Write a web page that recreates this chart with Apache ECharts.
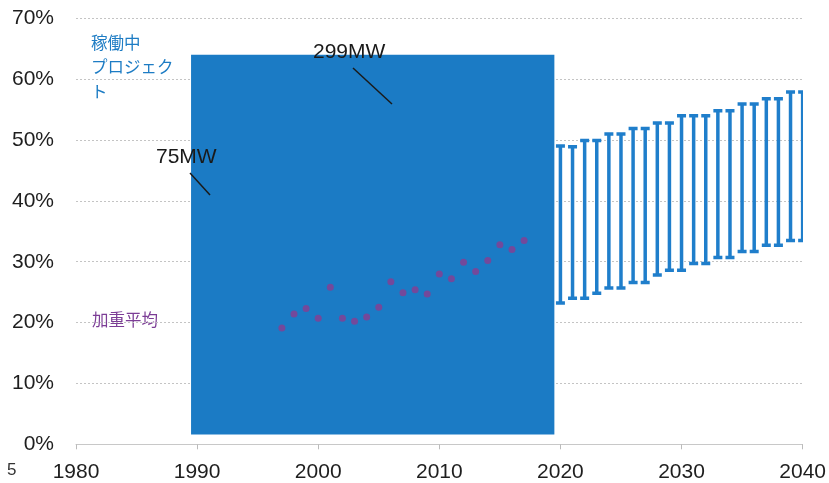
<!DOCTYPE html>
<html><head><meta charset="utf-8">
<script src="https://cdn.jsdelivr.net/npm/echarts@6/dist/echarts.min.js"></script>
<style>html,body{margin:0;padding:0;background:#fff}#c{width:829px;height:483px}</style>
</head><body><div id="c"></div>
<script>
// Operating projects block (years span, percent span)
const blockStartYear = 1989.5, blockEndYear = 2019.5, blockLow = 1.6, blockHigh = 64;
// Weighted average capacity factor (%)
const avgYears = [1997,1998,1999,2000,2001,2002,2003,2004,2005,2006,2007,2008,2009,2010,2011,2012,2013,2014,2015,2016,2017];
const avgValues = [19.1,21.4,22.3,20.7,25.8,20.7,20.2,20.9,22.5,26.7,24.9,25.4,24.7,28.0,27.2,29.9,28.4,30.2,32.8,32.0,33.5];
// Projected range (%)
const rangeYears = [2020,2021,2022,2023,2024,2025,2026,2027,2028,2029,2030,2031,2032,2033,2034,2035,2036,2037,2038,2039,2040];
const rangeHigh = [49.0,48.9,49.9,49.9,51.0,51.0,51.9,51.9,52.8,52.8,54.0,54.0,54.0,54.8,54.8,55.9,55.9,56.8,56.8,57.9,57.9];
const rangeLow  = [23.2,24.0,24.0,24.8,25.7,25.7,26.6,26.6,27.8,28.6,28.6,29.7,29.7,30.7,30.7,31.7,31.7,32.7,32.7,33.5,33.5];
const yTicks = [0,10,20,30,40,50,60,70];

const chart = echarts.init(document.getElementById('c'), null, {renderer:'canvas'});
const blue = '#1b7bc5';
const purple = '#8a3d90';
const font = '"Liberation Sans", Arial, sans-serif';
const jp = '"Noto Sans CJK JP", sans-serif';

chart.setOption({
  animation:false,
  grid:{left:76, right:26, top:18.3, bottom:38.7},
  xAxis:{type:'value', min:1980, max:2040, interval:10,
    axisLine:{lineStyle:{color:'#c8c8c8', width:1}},
    axisTick:{show:true, length:5, lineStyle:{color:'#bbb'}},
    splitLine:{show:false},
    axisLabel:{margin:17, fontFamily:font, fontSize:21, color:'#1e1e1e', formatter:v=>String(v)}
  },
  yAxis:{type:'value', min:yTicks[0], max:yTicks[yTicks.length-1], interval:10,
    axisLine:{show:false}, axisTick:{show:false},
    splitLine:{lineStyle:{color:'#c4c4c4', type:[2,2], width:1}},
    axisLabel:{margin:22, fontFamily:font, fontSize:21, color:'#1e1e1e', formatter:'{value}%'}
  },
  series:[
    {type:'custom', z:2, clip:true,
      data:[[blockStartYear, blockEndYear, blockLow, blockHigh]],
      renderItem:(p, api)=>{
        const a = api.coord([api.value(0), api.value(3)]);
        const b = api.coord([api.value(1), api.value(2)]);
        return {type:'rect', shape:{x:a[0], y:a[1], width:b[0]-a[0], height:b[1]-a[1]}, style:{fill:blue}};
      }
    },
    {type:'scatter', z:3, symbolSize:7, itemStyle:{color:purple},
      data: avgYears.map((y,i)=>[y, avgValues[i]])},
    {type:'custom', z:3, clip:true,
      data: rangeYears.map((y,i)=>[y, rangeLow[i], rangeHigh[i]]),
      renderItem:(p, api)=>{
        const lo = api.coord([api.value(0), api.value(1)]);
        const hi = api.coord([api.value(0), api.value(2)]);
        const w = 4.5;
        const st = {stroke:'#1f7ecb', lineWidth:3.5};
        return {type:'group', children:[
          {type:'line', shape:{x1:lo[0], y1:lo[1], x2:hi[0], y2:hi[1]}, style:st},
          {type:'line', shape:{x1:lo[0]-w, y1:lo[1], x2:lo[0]+w, y2:lo[1]}, style:st},
          {type:'line', shape:{x1:hi[0]-w, y1:hi[1], x2:hi[0]+w, y2:hi[1]}, style:st}
        ]};
      }
    }
  ],
  graphic:[
    {type:'text', left:7, top:462, style:{text:'5', font:'17px '+font, fill:'#333'}},
    {type:'text', left:91, top:30, style:{text:'稼働中\nプロジェク\nト', font:'16.5px '+jp, fill:'#1d7cc4', lineHeight:24.5}},
    {type:'text', left:92, top:311, style:{text:'加重平均', font:'16.5px '+jp, fill:'#7c3d96'}},
    {type:'text', left:156, top:147, z:10, style:{text:'75MW', font:'21px '+font, fill:'#1a1a1a'}},
    {type:'line', z:10, shape:{x1:190, y1:173, x2:210, y2:195}, style:{stroke:'#1a1a1a', lineWidth:1.5}},
    {type:'text', left:313, top:42, z:10, style:{text:'299MW', font:'21px '+font, fill:'#1a1a1a'}},
    {type:'line', z:10, shape:{x1:353, y1:68, x2:392, y2:104}, style:{stroke:'#1a1a1a', lineWidth:1.5}}
  ]
});
</script></body></html>
